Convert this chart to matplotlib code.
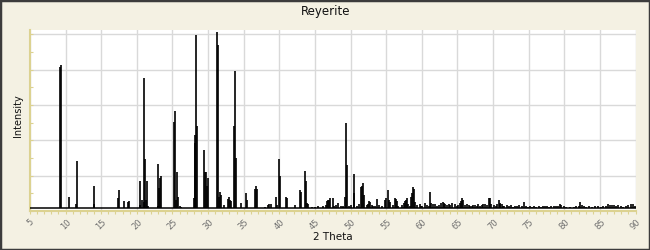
"""
Powder diffraction pattern for Reyerite, drawn as a stick profile.
"""

import matplotlib
matplotlib.use('Agg')
import matplotlib.pyplot as plt
from matplotlib.patches import Rectangle
from matplotlib.ticker import MultipleLocator

# main reflections (2 theta in degrees, intensity in counts)
main_pos = [9.26, 9.40, 10.52, 11.46, 11.56, 13.95, 14.03, 17.40, 17.54, 18.24,
            18.72, 18.86, 20.41, 20.49, 20.77, 20.97, 21.05, 21.15, 21.29, 21.43,
            21.57, 22.94, 23.02, 23.16, 23.30, 23.44, 25.27, 25.41, 25.55, 25.69,
            25.83, 26.07, 26.21, 27.99, 28.13, 28.22, 28.36, 28.50, 29.48, 29.62,
            29.76, 29.90, 30.04, 31.31, 31.45, 31.59, 31.73, 31.87, 32.25, 32.85,
            32.99, 33.13, 33.27, 33.69, 33.83, 33.97, 34.68, 35.38, 35.52, 36.64,
            36.78, 36.92, 37.96, 38.38, 38.52, 38.80, 39.59, 39.73, 40.01, 40.15,
            41.00, 41.14, 42.26, 42.96, 43.10, 43.67, 43.81, 43.95, 44.09]
main_int = [816, 829, 77, 40, 283, 40, 140, 75, 119, 56,
            50, 56, 35, 170, 60, 50, 753, 294, 60, 171,
            30, 30, 265, 130, 185, 198, 505, 569, 60, 222,
            80, 30, 25, 75, 429, 384, 994, 480, 345, 220,
            220, 143, 185, 1013, 938, 80, 105, 90, 35, 70,
            80, 65, 55, 482, 791, 301, 45, 100, 60, 124,
            140, 124, 22, 35, 40, 40, 80, 35, 294, 198,
            80, 75, 35, 119, 110, 226, 170, 45, 38]

# mid-range reflections
mid_pos = [45.49, 46.76, 46.90, 47.04, 47.18, 47.60, 47.74, 48.30, 49.00, 49.28,
           49.42, 49.56, 49.84, 50.46, 50.54, 51.53, 51.67, 51.81, 51.95, 52.65,
           52.79, 53.07, 53.21, 53.78, 54.06, 54.90, 55.04, 55.32, 55.46, 55.60,
           56.17, 56.31, 56.45, 57.49, 57.62, 57.77, 57.91, 58.05, 58.47, 58.61,
           58.75, 58.89, 59.03, 59.73, 59.87, 60.43, 61.14, 61.28, 61.56, 61.88,
           62.12, 62.96, 63.10, 63.24, 64.31, 65.35, 65.49, 65.63, 65.77, 66.10,
           67.04, 67.50, 67.92, 68.20, 68.90, 69.14, 69.37, 69.51, 69.65, 70.17,
           70.77, 70.91, 71.01, 71.19, 71.43]
mid_int = [30, 55, 62, 62, 75, 75, 30, 45, 30, 80,
           501, 260, 30, 209, 100, 134, 140, 156, 90, 55,
           50, 35, 28, 70, 35, 60, 72, 119, 65, 50,
           72, 68, 55, 45, 55, 62, 75, 40, 80, 103,
           137, 124, 50, 40, 30, 45, 107, 45, 40, 40,
           30, 50, 45, 38, 45, 45, 55, 72, 60, 35,
           30, 35, 40, 30, 42, 35, 72, 72, 40, 35,
           60, 40, 45, 38, 30]

# weak background reflections
weak_pos = [44.6, 45.0, 46.2, 46.5, 48.0, 48.6, 48.9, 50.0, 50.9, 51.2,
            52.3, 52.5, 53.5, 54.4, 55.9, 56.7, 57.2, 58.3, 59.3, 60.0,
            60.8, 61.0, 62.4, 62.7, 63.5, 63.8, 64.0, 64.6, 64.9, 65.1,
            66.3, 66.6, 66.8, 67.2, 67.7, 68.4, 68.6, 70.4, 70.6, 71.6,
            71.9, 72.2, 72.5, 72.8, 73.1, 73.4, 73.7, 74.0, 74.38, 74.6,
            74.9, 75.2, 75.5, 75.8, 76.1, 76.4, 76.7, 77.0, 77.3, 77.6,
            77.9, 78.2, 78.5, 78.8, 79.1, 79.34, 79.6, 79.9, 80.3, 80.8,
            81.3, 81.7, 82.0, 82.25, 82.5, 82.8, 83.1, 83.5, 83.9, 84.3,
            84.7, 85.1, 85.5, 85.8, 86.1, 86.4, 86.7, 87.0, 87.3, 87.6,
            87.9, 88.3, 88.7, 89.0, 89.3, 89.6, 89.9]
weak_int = [25, 22, 28, 35, 35, 30, 25, 35, 30, 40,
            35, 40, 30, 30, 35, 30, 35, 30, 35, 30,
            35, 30, 35, 45, 33, 40, 35, 38, 30, 35,
            40, 35, 30, 35, 30, 35, 38, 30, 38, 30,
            35, 28, 32, 25, 30, 27, 33, 28, 50, 30,
            25, 28, 24, 27, 25, 28, 24, 27, 26, 29,
            25, 28, 30, 26, 28, 38, 32, 26, 22, 24,
            22, 28, 30, 50, 35, 27, 25, 28, 24, 26,
            28, 24, 27, 30, 38, 35, 33, 36, 30, 34,
            26, 25, 30, 35, 42, 38, 30]

baseline = 17
x_range = [5, 90]

bg_color = '#f4f1e3'
axis_color = '#dcd291'
grid_color = '#d9d9d9'

fig = plt.figure(figsize=(6.5, 2.5), dpi=100)
fig.patch.set_facecolor(bg_color)
ax = fig.add_axes([30 / 650, 39 / 250, 605.5 / 650, 181 / 250])
ax.set_facecolor('white')

# profile
all_pos = main_pos + mid_pos + weak_pos
all_int = main_int + mid_int + weak_int
ax.plot(x_range, [baseline, baseline], color='black', lw=1.1, zorder=3)
ax.vlines(all_pos, baseline, all_int, color='black', lw=1.2, zorder=3)

ax.set_xlim(5, 90)
ax.set_ylim(0, 1025)

ax.xaxis.set_major_locator(MultipleLocator(5))
ax.xaxis.set_minor_locator(MultipleLocator(1))
ax.yaxis.set_major_locator(MultipleLocator(200))
ax.yaxis.set_minor_locator(MultipleLocator(100))
ax.grid(True, which='major', color=grid_color, lw=1.0, zorder=0)

ax.tick_params(axis='x', which='both', direction='out', length=2.5, width=0.8,
               color=axis_color, labelsize=6, labelcolor='#6e6e6e', pad=2)
ax.tick_params(axis='y', which='both', direction='in', length=2.5, width=0.8,
               color=axis_color, labelleft=False)
for lbl in ax.get_xticklabels():
    lbl.set_rotation(45)
    lbl.set_ha('center')

for side in ['top', 'right']:
    ax.spines[side].set_visible(False)
for side in ['left', 'bottom']:
    ax.spines[side].set_color(axis_color)
    ax.spines[side].set_linewidth(1.5)

# Labels & title
fig.text(325.5 / 650, 1 - 15 / 250, 'Reyerite', ha='center', va='baseline',
         fontsize=8.5, color='#111111')
fig.text(333 / 650, 1 - 240 / 250, '2 Theta', ha='center', va='baseline',
         fontsize=7.5, color='#111111')
fig.text(17.5 / 650, 1 - 116 / 250, 'Intensity', ha='center', va='center',
         rotation=90, fontsize=7, color='#111111')

# outer frame
fig.patches.append(Rectangle((0, 0), 1, 1, transform=fig.transFigure, fill=False,
                             edgecolor='#3c3c3c', lw=2.5, zorder=10))

fig.savefig('out.png', dpi=100, facecolor=bg_color)
plt.close(fig)
